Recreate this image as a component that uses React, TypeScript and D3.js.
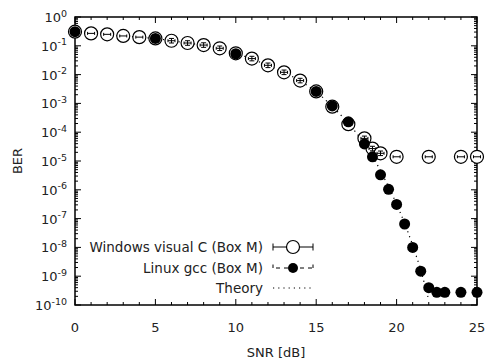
import React, { useEffect, useRef } from "react";
import * as d3 from "d3";

// Windows visual C (Box M) - open circles with error bars
const winSnr = [0, 1, 2, 3, 4, 5, 6, 7, 8, 9, 10, 11, 12, 13, 14, 15, 16, 17, 18, 18.5, 19, 20, 22, 24, 25];
const winBer = [0.31, 0.27, 0.25, 0.22, 0.2, 0.18, 0.15, 0.125, 0.106, 0.082, 0.055, 0.036, 0.021, 0.012, 0.0062,
  0.0026, 7.7e-4, 1.9e-4, 6.1e-5, 2.7e-5, 1.85e-5, 1.4e-5, 1.4e-5, 1.4e-5, 1.4e-5];
const winYErr = [0, 0, 0, 0, 0, 0, 1.2, 1.2, 1.2, 1.2, 1.2, 1.2, 1.2, 1.2, 1.2, 0, 0, 0, 1.2, 1.2, 1.2, 0, 0, 0, 0];

// Linux gcc (Box M) - filled circles
const linSnr = [0, 5, 10, 15, 16, 17, 18, 18.5, 19, 19.5, 20, 20.5, 21, 21.5, 22, 22.5, 23, 24, 25];
const linBer = [0.31, 0.18, 0.053, 0.0026, 8.2e-4, 2.3e-4, 3.9e-5, 1.4e-5, 3.3e-6, 1.04e-6, 3.1e-7, 6.5e-8,
  1.0e-8, 1.5e-9, 4.0e-10, 2.75e-10, 2.75e-10, 2.75e-10, 2.75e-10];

// Theory - dotted line
const thSnr = [0, 1, 2, 3, 4, 5, 6, 7, 8, 9, 10, 11, 12, 13, 14, 15, 16, 17, 18, 18.5, 19, 19.5, 20, 20.5, 21, 21.5, 22];
const thBer = [0.31, 0.27, 0.25, 0.22, 0.2, 0.18, 0.15, 0.125, 0.105, 0.081, 0.055, 0.035, 0.021, 0.012, 0.0062,
  0.0026, 8e-4, 2.1e-4, 4.2e-5, 1.6e-5, 4.5e-6, 1.3e-6, 3.2e-7, 7e-8, 1.2e-8, 1.7e-9, 1.5e-10];

const xTicks = [0, 5, 10, 15, 20, 25];
const yExps = [0, -1, -2, -3, -4, -5, -6, -7, -8, -9, -10];
const legendLabels = ["Windows visual C (Box M)", "Linux gcc (Box M)", "Theory"];

const App = () => {
  const ref = useRef<HTMLDivElement>(null);

  useEffect(() => {
    const root = d3.select(ref.current);
    root.selectAll("*").remove();

    const svg = root.append("svg").attr("width", 486).attr("height", 361)
      .style("display", "block")
      .style("font-family", "DejaVu Sans, sans-serif");

    const m = { left: 75, right: 477, top: 17, bottom: 305 };
    const x = d3.scaleLinear().domain([0, 25]).range([m.left, m.right]);
    const y = d3.scaleLog().domain([1e-10, 1]).range([m.bottom, m.top]);

    svg.append("defs").append("clipPath").attr("id", "plotclip")
      .append("rect").attr("x", m.left).attr("y", m.top)
      .attr("width", m.right - m.left).attr("height", m.bottom - m.top);

    const g = svg.append("g").attr("stroke", "#000").attr("stroke-width", 1);

    // x ticks (bottom and top, inward)
    d3.range(0, 26).forEach((v) => {
      const len = v % 5 === 0 ? 6 : 3;
      g.append("line").attr("x1", x(v)).attr("x2", x(v)).attr("y1", m.bottom).attr("y2", m.bottom - len);
      g.append("line").attr("x1", x(v)).attr("x2", x(v)).attr("y1", m.top).attr("y2", m.top + len);
    });
    // y ticks (left and right, inward), with log minor ticks
    yExps.forEach((e) => {
      const major = Math.pow(10, e);
      g.append("line").attr("x1", m.left).attr("x2", m.left + 6).attr("y1", y(major)).attr("y2", y(major));
      g.append("line").attr("x1", m.right).attr("x2", m.right - 6).attr("y1", y(major)).attr("y2", y(major));
      if (e < 0) {
        d3.range(2, 10).forEach((k) => {
          const v = k * major;
          g.append("line").attr("x1", m.left).attr("x2", m.left + 3).attr("y1", y(v)).attr("y2", y(v));
          g.append("line").attr("x1", m.right).attr("x2", m.right - 3).attr("y1", y(v)).attr("y2", y(v));
        });
      }
    });

    svg.append("rect").attr("x", m.left).attr("y", m.top)
      .attr("width", m.right - m.left).attr("height", m.bottom - m.top)
      .attr("fill", "none").attr("stroke", "#000").attr("stroke-width", 1.5);

    // tick labels
    svg.selectAll(".xl").data(xTicks).enter().append("text")
      .attr("x", (d) => x(d)).attr("y", 332).attr("text-anchor", "middle")
      .attr("font-size", 13).attr("fill", "#222").text((d) => d);

    const yl = svg.selectAll(".yl").data(yExps).enter().append("text")
      .attr("x", 67).attr("y", (d) => y(Math.pow(10, d)) + 5).attr("text-anchor", "end")
      .attr("font-size", 13).attr("fill", "#222");
    yl.append("tspan").text("10");
    yl.append("tspan").attr("dy", -5.5).attr("font-size", 9.5).text((d) => d);

    svg.append("text").attr("x", (m.left + m.right) / 2).attr("y", 357).attr("text-anchor", "middle")
      .attr("font-size", 13).attr("fill", "#222").text("SNR [dB]");
    svg.append("text").attr("transform", `translate(22,${(m.top + m.bottom) / 2}) rotate(-90)`)
      .attr("text-anchor", "middle").attr("font-size", 13).attr("fill", "#222").text("BER");

    const plot = svg.append("g").attr("clip-path", "url(#plotclip)");

    // theory
    const line = d3.line<number>().x((d, i) => x(thSnr[i])).y((d) => y(d));
    plot.append("path").attr("d", line(thBer)).attr("fill", "none").attr("stroke", "#000")
      .attr("stroke-width", 1.2).attr("stroke-dasharray", "1.2,4");

    // windows points
    const win = svg.append("g");
    winBer.forEach((b, i) => {
      const cx = x(winSnr[i]);
      const cy = y(b);
      win.append("circle").attr("cx", cx).attr("cy", cy).attr("r", 6.5)
        .attr("fill", "#fff").attr("stroke", "#000").attr("stroke-width", 1.2);
      const xe = 3.5;
      win.append("line").attr("x1", cx - xe).attr("x2", cx + xe).attr("y1", cy).attr("y2", cy)
        .attr("stroke", "#000").attr("stroke-width", 1);
      [cx - xe, cx + xe].forEach((px) => {
        win.append("line").attr("x1", px).attr("x2", px).attr("y1", cy - 1.5).attr("y2", cy + 1.5)
          .attr("stroke", "#000").attr("stroke-width", 1);
      });
      if (winYErr[i] > 0) {
        const y0 = y(b * winYErr[i]);
        const y1 = y(b / winYErr[i]);
        win.append("line").attr("x1", cx).attr("x2", cx).attr("y1", y0).attr("y2", y1)
          .attr("stroke", "#000").attr("stroke-width", 1);
        [y0, y1].forEach((py) => {
          win.append("line").attr("x1", cx - 2.5).attr("x2", cx + 2.5).attr("y1", py).attr("y2", py)
            .attr("stroke", "#000").attr("stroke-width", 1);
        });
      }
    });

    // linux points
    svg.append("g").selectAll("circle").data(linBer).enter().append("circle")
      .attr("cx", (d, i) => x(linSnr[i])).attr("cy", (d) => y(d)).attr("r", 5.5).attr("fill", "#000");

    // legend
    const lg = svg.append("g").attr("font-size", 13.5).attr("fill", "#222");
    const rows = [247, 268, 288];
    legendLabels.forEach((t, i) => {
      lg.append("text").attr("x", 263).attr("y", rows[i] + 5).attr("text-anchor", "end").text(t);
    });
    const s0 = 273, s1 = 313, sm = (s0 + s1) / 2;
    // windows sample
    lg.append("line").attr("x1", s0).attr("x2", s1).attr("y1", rows[0]).attr("y2", rows[0]).attr("stroke", "#000");
    [s0, s1].forEach((px) => lg.append("line").attr("x1", px).attr("x2", px)
      .attr("y1", rows[0] - 3.5).attr("y2", rows[0] + 3.5).attr("stroke", "#000"));
    lg.append("circle").attr("cx", sm).attr("cy", rows[0]).attr("r", 6.5)
      .attr("fill", "#fff").attr("stroke", "#000").attr("stroke-width", 1.2);
    // linux sample
    lg.append("line").attr("x1", s0).attr("x2", s1).attr("y1", rows[1]).attr("y2", rows[1])
      .attr("stroke", "#000").attr("stroke-dasharray", "4,4").attr("stroke-dashoffset", -3);
    [s0, s1].forEach((px) => lg.append("line").attr("x1", px).attr("x2", px)
      .attr("y1", rows[1] - 3.5).attr("y2", rows[1]).attr("stroke", "#000"));
    lg.append("circle").attr("cx", sm).attr("cy", rows[1]).attr("r", 5).attr("fill", "#000");
    // theory sample
    lg.append("line").attr("x1", s0).attr("x2", s1).attr("y1", rows[2]).attr("y2", rows[2])
      .attr("stroke", "#000").attr("stroke-width", 1.2).attr("stroke-dasharray", "1.2,4");
  }, []);

  return <div ref={ref} style={{ position: "absolute", left: 0, top: 0 }} />;
};

export default App;
